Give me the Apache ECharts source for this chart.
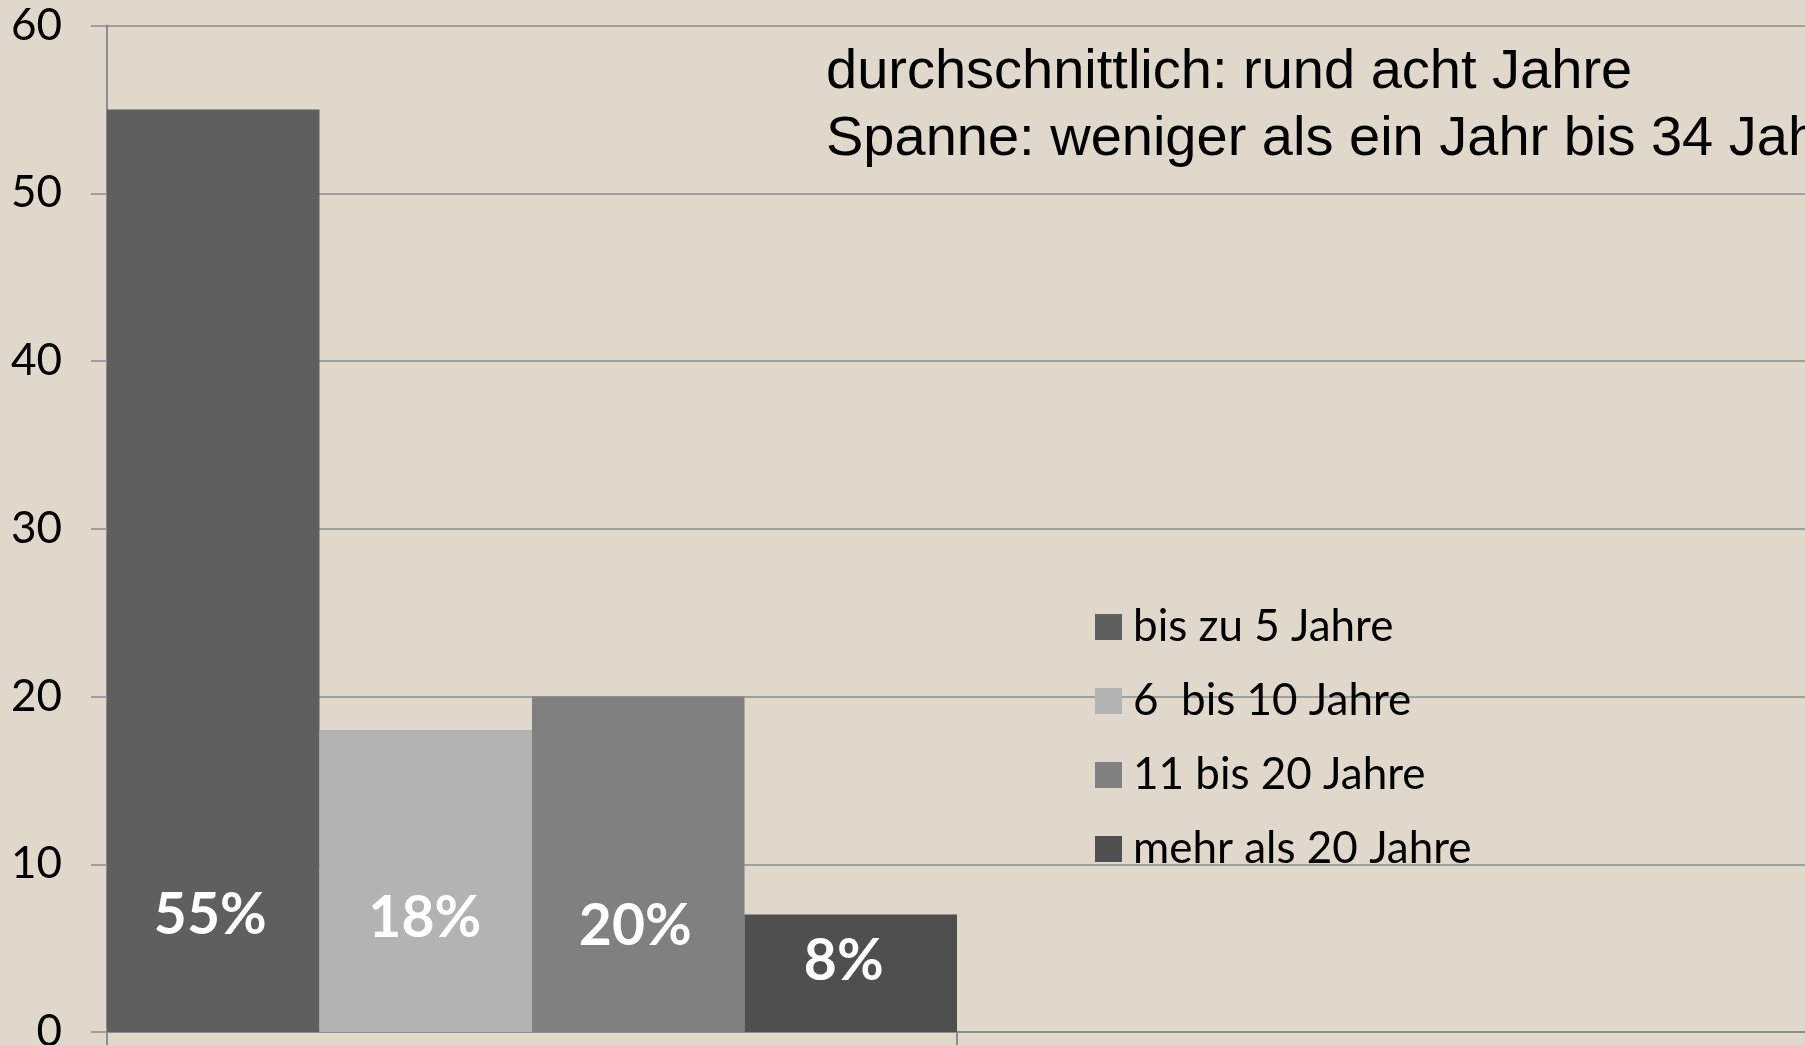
<!DOCTYPE html>
<html>
<head>
<meta charset="utf-8">
<script src="https://cdn.jsdelivr.net/npm/echarts@6/dist/echarts.min.js"></script>
<style>
html,body{margin:0;padding:0;background:#e0d8cb;}
#c{width:1805px;height:1045px;}
</style>
</head>
<body>
<div id="c"></div>
<script>
// Data
var categories = ['', ''];
var seriesNames = ['bis zu 5 Jahre', '6  bis 10 Jahre', '11 bis 20 Jahre', 'mehr als 20 Jahre'];
var seriesValues = [55, 18, 20, 7];
var barLabels = ['55%', '18%', '20%', '8%'];
var yTicks = [0, 10, 20, 30, 40, 50, 60];
var noteLines = ['durchschnittlich: rund acht Jahre', 'Spanne: weniger als ein Jahr bis 34 Jahre'];

// Styling
var colors = ['#5f5f5f', '#b3b3b3', '#808080', '#4f4f4f'];
var labelDist = [88, 85, 77, 42];
var labelOffX = [-3, -1, -3, -7];

var chart = echarts.init(document.getElementById('c'));
var series = seriesNames.map(function (n, i) {
  return {
    name: n,
    type: 'bar',
    barGap: '0%',
    barCategoryGap: '0%',
    itemStyle: { color: colors[i] },
    data: [seriesValues[i], null],
    label: {
      show: true,
      position: 'insideBottom',
      distance: labelDist[i],
      offset: [labelOffX[i], 0],
      formatter: function () { return barLabels[i]; },
      color: '#ffffff',
      fontFamily: 'Lato',
      fontWeight: 'bold',
      fontSize: 57
    }
  };
});

chart.setOption({
  backgroundColor: '#e0d8cb',
  animation: false,
  color: colors,
  grid: { left: 107, right: -2, top: 25.5, bottom: 13, containLabel: false, outerBoundsMode: 'none' },
  legend: {
    orient: 'vertical',
    left: 1095,
    top: 605,
    padding: 0,
    itemWidth: 27,
    itemHeight: 26,
    itemGap: 30,
    icon: 'rect',
    data: seriesNames,
    textStyle: {
      fontFamily: 'Lato',
      fontSize: 44,
      color: '#000000',
      padding: [0, 0, 0, 6]
    }
  },
  xAxis: {
    type: 'category',
    data: categories,
    boundaryGap: true,
    axisLine: { show: true, lineStyle: { color: '#8c8c8c', width: 2 } },
    axisTick: { show: true, length: 14, lineStyle: { color: '#8c8c8c', width: 2 } },
    axisLabel: { show: false },
    splitLine: { show: false }
  },
  yAxis: {
    type: 'value',
    min: yTicks[0],
    max: yTicks[yTicks.length - 1],
    interval: yTicks[1] - yTicks[0],
    axisLine: { show: true, lineStyle: { color: '#8c8c8c', width: 2 } },
    axisTick: { show: true, length: 16, inside: false, lineStyle: { color: '#8c8c8c', width: 1.5 } },
    axisLabel: {
      margin: 45,
      fontFamily: 'Lato',
      fontSize: 44,
      color: '#000000'
    },
    splitLine: { show: true, lineStyle: { color: '#8c8c8c', width: 1.5 } }
  },
  graphic: [
    {
      type: 'text', left: 826, top: 45, z: 100,
      style: { text: noteLines[0], fontFamily: 'Liberation Sans', fontSize: 56, fill: '#000000' }
    },
    {
      type: 'text', left: 826, top: 112, z: 100,
      style: { text: noteLines[1], fontFamily: 'Liberation Sans', fontSize: 56, fill: '#000000' }
    }
  ],
  series: series
});
</script>
</body>
</html>
